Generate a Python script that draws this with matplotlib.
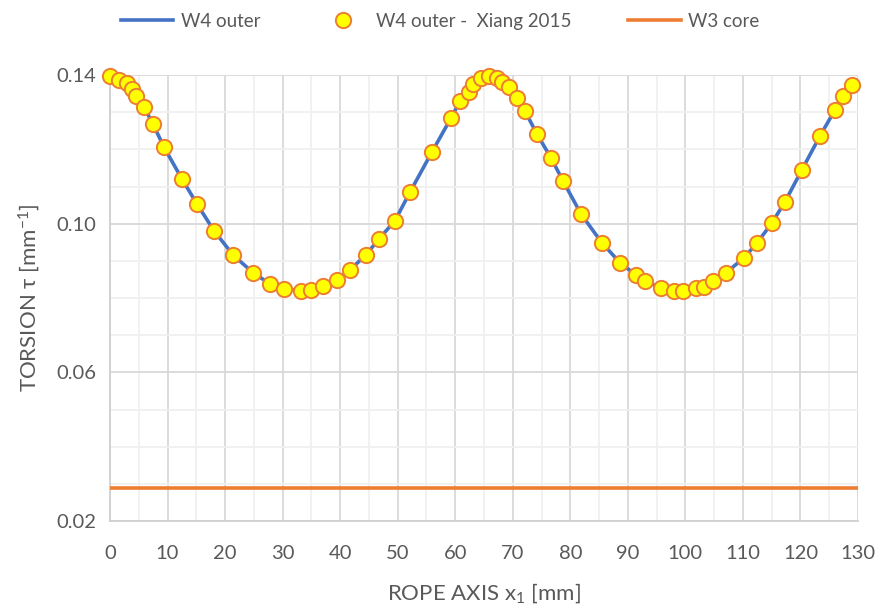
import matplotlib.pyplot as plt
from matplotlib.ticker import MultipleLocator

plt.rcParams['font.family'] = ['Lato', 'DejaVu Sans']
plt.rcParams['mathtext.default'] = 'regular'

# Torsion of the W4 outer wire along the rope axis
x_w4 = [0.0, 1.56, 2.95, 3.82, 4.52, 5.91, 7.47, 9.38, 12.51, 15.12,
        18.07, 21.38, 24.85, 27.81, 30.24, 33.19, 34.93, 37.02, 39.45, 41.71,
        44.49, 46.75, 49.53, 52.14, 55.96, 59.26, 60.83, 62.39, 63.09, 64.48,
        65.87, 67.26, 68.13, 69.34, 70.73, 72.12, 74.21, 76.64, 78.73, 81.86,
        85.51, 88.63, 91.41, 92.98, 95.76, 98.02, 99.58, 101.84, 103.23, 104.80,
        107.06, 110.18, 112.44, 115.05, 117.31, 120.26, 123.39, 126.0, 127.39, 128.95]
tau_w4 = [0.1397, 0.1387, 0.1378, 0.1362, 0.1344, 0.1314, 0.1268, 0.1206, 0.1120, 0.1053,
          0.0981, 0.0916, 0.0868, 0.0838, 0.0825, 0.0819, 0.0822, 0.0833, 0.0849, 0.0876,
          0.0916, 0.0959, 0.1008, 0.1085, 0.1193, 0.1284, 0.1330, 0.1354, 0.1376, 0.1392,
          0.1397, 0.1392, 0.1381, 0.1368, 0.1338, 0.1303, 0.1241, 0.1177, 0.1115, 0.1026,
          0.0948, 0.0895, 0.0862, 0.0846, 0.0827, 0.0819, 0.0819, 0.0827, 0.0830, 0.0846,
          0.0868, 0.0908, 0.0948, 0.1002, 0.1059, 0.1145, 0.1236, 0.1306, 0.1344, 0.1373]

# Core wire torsion is constant
x_w3 = [0, 130]
tau_w3 = [0.029, 0.029]

fig = plt.figure(figsize=(8.77, 6.10), dpi=100)
ax = fig.add_axes([110 / 877, 1 - 521 / 610, 748 / 877, 446 / 610])

ax.plot(x_w4, tau_w4, color='#4472c4', lw=2.6, label='W4 outer', zorder=3)
ax.plot(x_w4, tau_w4, ls='none', marker='o', ms=11, mfc='#ffff00', mec='#ed7d31',
        mew=1.4, label='W4 outer -  Xiang 2015', zorder=4, clip_on=False)
ax.plot(x_w3, tau_w3, color='#ed7d31', lw=2.6, label='W3 core', zorder=3)

ax.set_xlim(0, 130)
ax.set_ylim(0.02, 0.14)
ax.xaxis.set_major_locator(MultipleLocator(10))
ax.xaxis.set_minor_locator(MultipleLocator(5))
ax.yaxis.set_minor_locator(MultipleLocator(0.01))
ax.set_yticks([0.02, 0.06, 0.10, 0.14])
ax.set_yticklabels(['0.02', '0.06', '0.10', '0.14'])

ax.grid(which='major', color='#d9d9d9', lw=1.3, zorder=0)
ax.grid(which='minor', color='#f0f0f0', lw=1.3, zorder=0)
ax.set_axisbelow(True)

for side in ['top', 'right']:
    ax.spines[side].set_visible(False)
for side in ['left', 'bottom']:
    ax.spines[side].set_color('#d0d0d0')
    ax.spines[side].set_linewidth(1.3)

ax.tick_params(which='both', length=0, labelsize=14.5, labelcolor='#595959')
ax.tick_params(axis='x', pad=17)
ax.tick_params(axis='y', pad=10)

ax.set_xlabel('ROPE AXIS x$_1$ [mm]', fontsize=16, color='#595959', labelpad=14)
ax.set_ylabel('TORSION τ [mm$^{-1}$]', fontsize=16, color='#595959', labelpad=10)

ax.legend(loc='upper center', bbox_to_anchor=(0.5 - 44 / 748, 1 + 79 / 446), ncol=3,
          frameon=False, fontsize=13.5, labelcolor='#595959', handlelength=2.8,
          columnspacing=3.0, handletextpad=0.4)

fig.savefig('out.png', dpi=100)
